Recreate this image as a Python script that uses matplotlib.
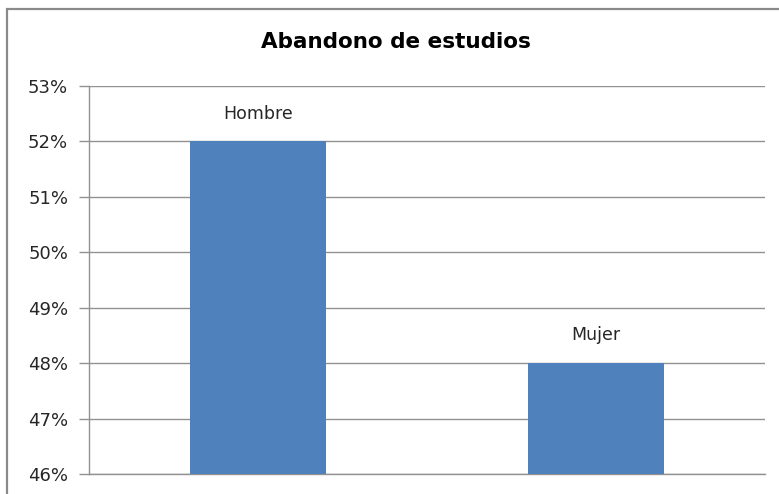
import matplotlib
matplotlib.use("Agg")
import matplotlib.pyplot as plt
from matplotlib.patches import Rectangle
from matplotlib.ticker import FuncFormatter

categorias = ["Hombre", "Mujer"]
abandono = [52, 48]          # porcentaje
yticks = [46, 47, 48, 49, 50, 51, 52, 53]

BAR = "#4f81bd"
GRID = "#919191"
INK = "#262626"

plt.rcParams.update({"font.family": "DejaVu Sans"})

W, H = 779, 494
fig = plt.figure(figsize=(W / 100, H / 100), dpi=100)
ax = fig.add_axes([89 / W, 20 / H, (765 - 89) / W, (474 - 86) / H])

# outer chart frame (continues past the right and bottom edges)
fig.patches.append(Rectangle((7 / W, -0.05), 1.2, 1 - 9 / H + 0.05,
                             transform=fig.transFigure, fill=False,
                             ec="#8a8a8a", lw=1.6, clip_on=False))

x = list(range(len(categorias)))
ax.bar(x, abandono, width=0.4, color=BAR, zorder=3)
ax.set_xlim(-0.5, len(categorias) - 0.5)
ax.set_ylim(yticks[0], yticks[-1])
ax.set_yticks(yticks)
ax.yaxis.set_major_formatter(FuncFormatter(lambda v, p: f"{v:.0f}%"))
ax.set_xticks([])
ax.grid(axis="y", color=GRID, lw=1.0, zorder=0)

for s in ["top", "right"]:
    ax.spines[s].set_visible(False)
for s in ["left", "bottom"]:
    ax.spines[s].set_color(GRID)
    ax.spines[s].set_linewidth(1.0)
ax.tick_params(axis="y", length=7, width=1.0, color=GRID, labelsize=13,
               labelcolor=INK, pad=8)

for xi, c, v in zip(x, categorias, abandono):
    ax.annotate(c, (xi, v), xytext=(0, 20), textcoords="offset points",
                ha="center", va="center", fontsize=12.5, color=INK)

fig.text(396 / W, 1 - 42 / H, "Abandono de estudios", ha="center", va="center",
         fontsize=15.5, fontweight="bold", color="black")

fig.savefig("out.png", dpi=100)
